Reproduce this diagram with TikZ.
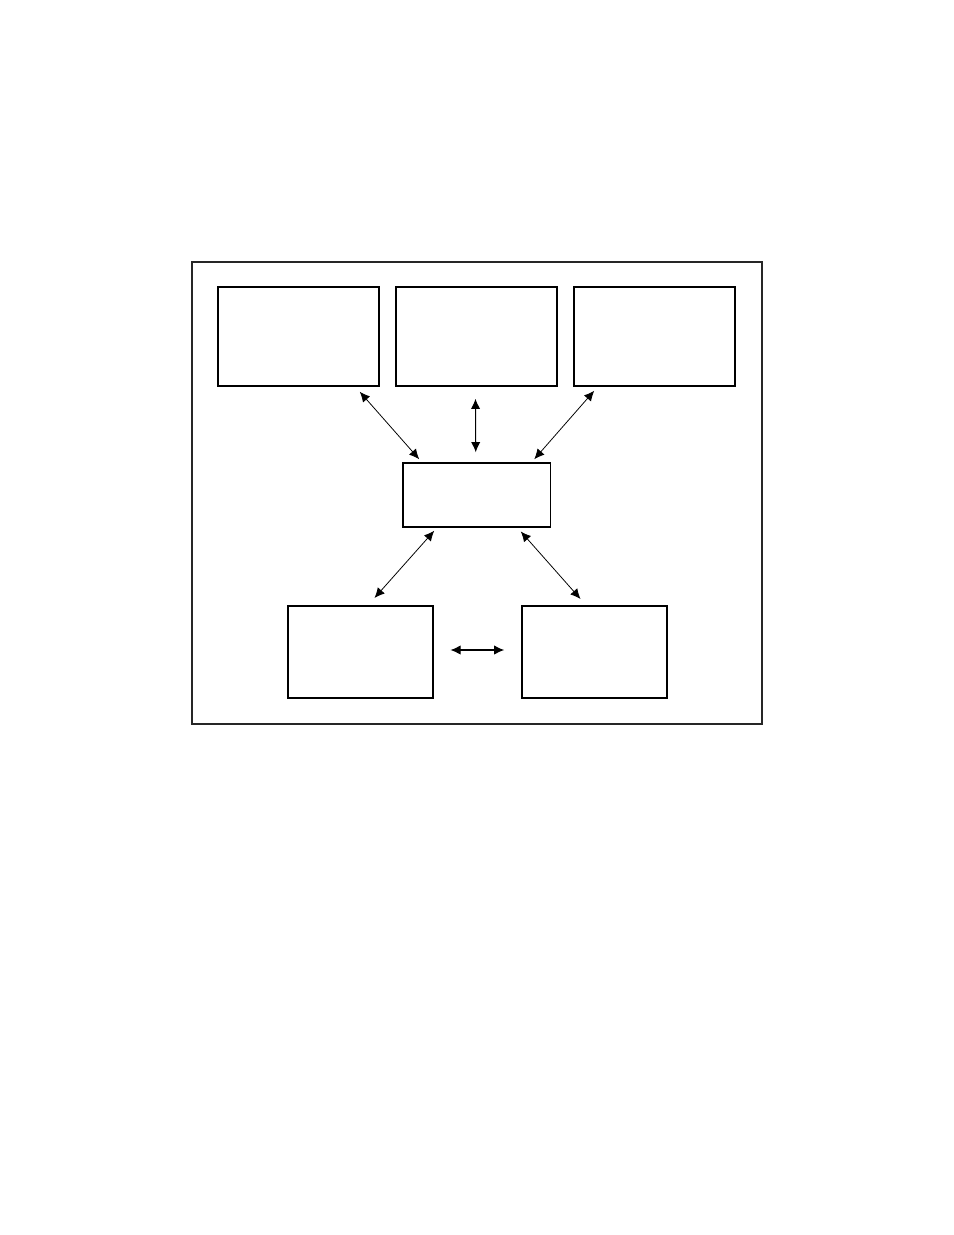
\documentclass[tikz,border=0pt]{standalone}
\usetikzlibrary{arrows.meta}
\usetikzlibrary{calc}
\tikzset{>=latex}
\def\pxu{0.6415pt}
\tikzstyle{framebox}=[draw=black!85,line width=0.7pt]
\tikzstyle{unitbox}=[draw,line width=1pt,inner sep=0pt,rectangle]
\tikzstyle{linkline}=[line width=0.5pt,{Latex[length=6.5pt,width=6pt]}-{Latex[length=6.5pt,width=6pt]}]
\tikzstyle{straightlink}=[linkline,line width=0.7pt]

\begin{document}
\begin{tikzpicture}[x=\pxu,y=-\pxu]
  \useasboundingbox (0,0) rectangle (954,1235);
  \draw[framebox] (192,262) rectangle (762,724);

  \node[unitbox,minimum width=161*\pxu,minimum height=99*\pxu] (topL) at (298.5,336.5) {};
  \node[unitbox,minimum width=161*\pxu,minimum height=99*\pxu] (topM) at (476.5,336.5) {};
  \node[unitbox,minimum width=161*\pxu,minimum height=99*\pxu] (topR) at (654.5,336.5) {};
  \node[unitbox,minimum width=147.5*\pxu,minimum height=64*\pxu] (hub) at (476.75,495) {};
  \node[unitbox,minimum width=145*\pxu,minimum height=92.5*\pxu] (botL) at (360.5,652) {};
  \node[unitbox,minimum width=145*\pxu,minimum height=92.5*\pxu] (botR) at (594.5,652) {};

  \draw[linkline] ($(topL.south east)+(-20,5)$) -- ($(hub.north west)+(17,-3)$);
  \draw[straightlink] ($(topM.south)+(-1,12)$) -- ($(hub.north)+(-1,-10)$);
  \draw[linkline] ($(topR.south west)+(21,4)$) -- ($(hub.north east)+(-17,-3)$);
  \draw[linkline] ($(hub.south west)+(32,3)$) -- ($(botL.north)+(14,-7)$);
  \draw[linkline] ($(hub.south east)+(-30.5,3.7)$) -- ($(botR.north)+(-14,-6)$);
  \draw[straightlink] ($(botL.east)+(16.7,-2)$) -- ($(botR.west)+(-17,-2)$);  %bottom pair
\end{tikzpicture}
\end{document}
